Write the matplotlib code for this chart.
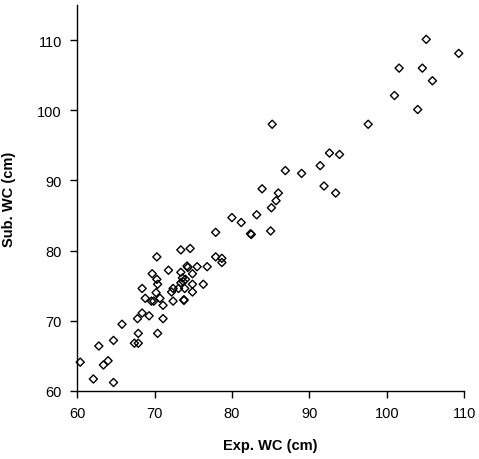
import matplotlib.pyplot as plt

plt.rcParams['font.family'] = ['Liberation Sans', 'DejaVu Sans']

exp_wc = [105.1, 109.3, 101.6, 104.6, 105.9, 101.0, 104.0, 97.6, 85.2,
          92.6, 93.9, 91.4, 91.9, 93.4, 89.0, 86.9, 83.9, 86.0, 85.7, 85.1,
          83.2, 80.0, 81.2, 85.0, 82.4, 82.5, 77.9, 73.4, 74.6, 70.3, 77.9,
          78.7, 78.7, 71.8, 74.2, 74.3, 75.5, 76.8, 69.7, 73.4, 74.9, 70.3,
          73.6, 70.4, 73.4, 74.9, 76.3, 68.4, 72.4, 73.1, 73.9, 72.2, 74.9,
          70.2, 68.8, 70.7, 69.9, 69.6, 73.8, 73.8, 72.4, 71.1, 68.4, 69.3,
          67.8, 71.1, 65.8, 67.9, 70.4, 64.7, 67.4, 67.9, 62.8, 64.0, 63.4,
          60.4, 62.1, 64.7, 73.7, 74.0]
sub_wc = [110.1, 108.1, 106.0, 106.0, 104.2, 102.1, 100.1, 98.0, 98.0,
          93.9, 93.7, 92.1, 89.2, 88.2, 91.0, 91.4, 88.8, 88.2, 87.1, 86.1,
          85.1, 84.7, 84.0, 82.8, 82.4, 82.3, 82.6, 80.1, 80.3, 79.1, 79.1,
          78.9, 78.3, 77.2, 77.8, 77.6, 77.7, 77.7, 76.7, 76.9, 76.7, 75.9,
          76.1, 75.2, 75.4, 75.2, 75.2, 74.6, 74.6, 74.6, 74.6, 74.1, 74.1,
          74.0, 73.2, 73.2, 72.8, 72.8, 73.0, 72.9, 72.8, 72.2, 71.1, 70.7,
          70.3, 70.3, 69.5, 68.2, 68.2, 67.2, 66.8, 66.8, 66.4, 64.3, 63.7,
          64.1, 61.7, 61.2, 75.6, 75.9]

xticks = [60, 70, 80, 90, 100, 110]
yticks = [60, 70, 80, 90, 100, 110]

fig = plt.figure(figsize=(4.79, 4.6), dpi=100)
ax = fig.add_axes([0.161, 0.148, 0.808, 0.839])

ax.scatter(exp_wc, sub_wc, marker='D', s=17, facecolors='none',
           edgecolors='black', linewidths=1.0, clip_on=False)

ax.set_xlim(60, 110)
ax.set_ylim(60, 115)
ax.set_xticks(xticks)
ax.set_yticks(yticks)
ax.tick_params(axis='both', direction='out', length=5, width=1,
               labelsize=10.5, colors='black', pad=6)

for side in ['top', 'right']:
    ax.spines[side].set_visible(False)
for side in ['left', 'bottom']:
    ax.spines[side].set_linewidth(1.0)

ax.set_xlabel('Exp. WC (cm)', fontsize=10.5, fontweight='bold', labelpad=13)
ax.set_ylabel('Sub. WC (cm)', fontsize=10.5, fontweight='bold', labelpad=15)

fig.savefig('out.png', dpi=100)
